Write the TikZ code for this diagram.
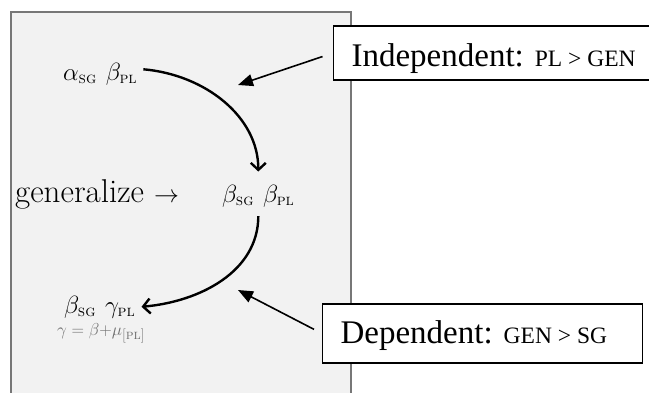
\documentclass[tikz,border=0pt]{standalone}
\usepackage{fontspec}
\newfontfamily\tnr{Liberation Serif}
\usetikzlibrary{arrows.meta}
\definecolor{panelgray}{HTML}{F2F2F2}
\definecolor{edgegray}{HTML}{777777}
\definecolor{notegray}{HTML}{6E6E6E}
\newcommand\smc[1]{\mbox{\fontsize{16}{16}\selectfont\textsc{#1}}}
\newcommand\smcb[1]{\mbox{\fontsize{14}{14}\selectfont[\textsc{#1}]}}
\begin{document}
\begin{tikzpicture}[x=1pt,y=-1pt,
  greek/.style={anchor=base west, inner sep=6pt, font=\fontsize{30}{33}\selectfont},
  curve/.style={line width=2.4pt, -{Straight Barb[length=7pt,width=15pt]}},
  pointer/.style={line width=1.6pt, -{Triangle[length=15pt,width=12pt]}},
  labelbox/.style={draw=black, line width=1.2pt, fill=white, anchor=west,
    inner xsep=18pt, inner ysep=0pt, align=flush left,
    font=\tnr\fontsize{33}{36}\selectfont}
]
\useasboundingbox (0,0) rectangle (649,392);
% panel
\fill[panelgray] (11,12) rectangle (351,400);
\draw[edgegray, line width=1.6pt] (11,400) -- (11,12) -- (351,12) -- (351,400);

% labels
\node[greek] (tl) at (57,80) {$\alpha_{\smc{sg}}\hspace{9pt}\beta_{\smc{pl}}$};
\node[anchor=base west, inner sep=0pt, font=\fontsize{33}{36}\selectfont] (gen) at (15,202) {generalize $\rightarrow$};
\node[greek] (mid) at (216,202) {$\beta_{\smc{sg}}\hspace{9pt}\beta_{\smc{pl}}$};
\node[greek] (bl) at (58,313) {$\beta_{\smc{sg}}\hspace{9pt}\gamma_{\smc{pl}}$};
\node[anchor=base west, inner sep=0pt, text=notegray, font=\fontsize{19}{21}\selectfont] (eq) at (57,335) {$\gamma = \beta{+}\mu_{\smcb{pl}}$};

% curved arrows
\draw[curve, shorten >=7pt] ([yshift=4.5pt]tl.east) to[out=-5,in=90] (mid.north);
\draw[curve, shorten <=3pt] (mid.south) to[out=-90,in=5] (bl.east);

% boxes
\node[labelbox, minimum width=340pt, minimum height=54pt, text width=304pt,
      text height=26pt, text depth=0pt] (ind) at (333,53)
      {Independent: {\fontsize{23.5}{26}\selectfont PL > GEN}};
\node[labelbox, minimum width=320pt, minimum height=59pt, text width=284pt,
      text height=22pt, text depth=3pt] (dep) at (322,333.5)
      {Dependent: {\fontsize{23.5}{26}\selectfont GEN > SG}};

\coordinate (p1) at (238,85);
\coordinate (p2) at (238,290);
\draw[pointer, shorten <=11pt] (ind.west) -- (p1);
\draw[pointer, shorten <=9pt] (dep.west) -- (p2);
\end{tikzpicture}
\end{document}
